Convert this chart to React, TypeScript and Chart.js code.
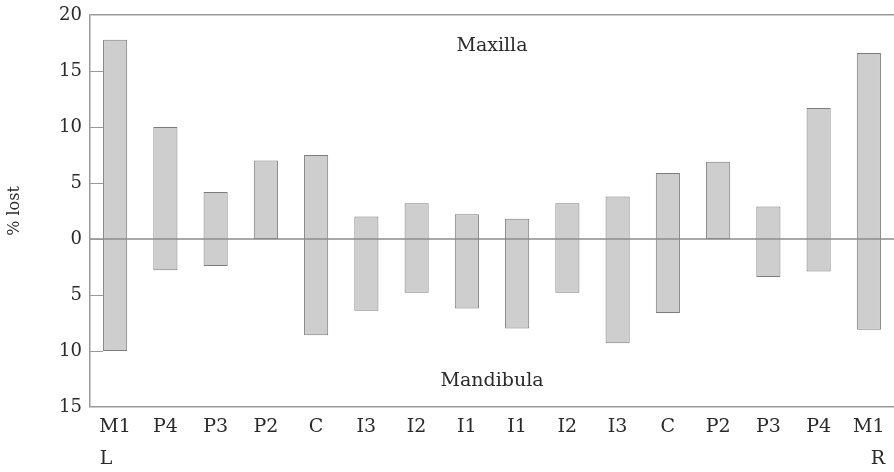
import React, { useEffect, useRef } from "react";
import { Chart, registerables } from "chart.js";

Chart.register(...registerables);

const categories: (string | string[])[] = [
  ["M1", "L   "], "P4", "P3", "P2", "C", "I3", "I2", "I1",
  "I1", "I2", "I3", "C", "P2", "P3", "P4", ["M1", "   R"],
];
const maxillaLost = [17.8, 10, 4.2, 7, 7.5, 2, 3.2, 2.2, 1.8, 3.2, 3.8, 5.9, 6.9, 2.9, 11.7, 16.6];
const mandibulaLost = [10, 2.8, 2.4, 0, 8.6, 6.4, 4.8, 6.2, 8, 4.8, 9.3, 6.6, 0, 3.4, 2.9, 8.1];
const yTicks = [-15, -10, -5, 0, 5, 10, 15, 20];
const regionLabels = [
  { text: "Maxilla", x: 7.5, y: 17.2 },
  { text: "Mandibula", x: 7.5, y: -12.7 },
];

const SERIF = "'DejaVu Serif', 'Liberation Serif', serif";
const TEXT = "#2a2a2a";
const AXIS = "#9a9a9a";

export default function App() {
  const ref = useRef<HTMLCanvasElement | null>(null);

  useEffect(() => {
    if (!ref.current) return;
    const decorations = {
      id: "decorations",
      afterDatasetsDraw(chart: any) {
        const { ctx, scales } = chart;
        const y = scales.y;
        const x = scales.x;
        ctx.save();
        // zero line over the bars
        ctx.strokeStyle = "#8c8c8c";
        ctx.lineWidth = 1.5;
        const pz = y.getPixelForValue(0);
        ctx.beginPath();
        ctx.moveTo(x.left, pz);
        ctx.lineTo(x.right, pz);
        ctx.stroke();
        // inner tick marks
        ctx.strokeStyle = AXIS;
        ctx.lineWidth = 1;
        yTicks.forEach((v) => {
          if (v === yTicks[0] || v === yTicks[yTicks.length - 1]) return;
          const py = Math.round(y.getPixelForValue(v)) + 0.5;
          ctx.beginPath();
          ctx.moveTo(x.left, py);
          ctx.lineTo(x.left + 13, py);
          ctx.stroke();
        });
        ctx.fillStyle = TEXT;
        ctx.font = `19px ${SERIF}`;
        ctx.textAlign = "center";
        ctx.textBaseline = "middle";
        regionLabels.forEach((l) => {
          ctx.fillText(l.text, x.getPixelForValue(l.x), y.getPixelForValue(l.y));
        });
        ctx.restore();
      },
    };

    const chart = new Chart(ref.current, {
      type: "bar",
      data: {
        labels: categories,
        datasets: [
          {
            label: "% lost",
            data: maxillaLost.map((v, i) => [-mandibulaLost[i], v]) as any,
            backgroundColor: "#cecece",
            borderColor: "#7c7c7c",
            borderWidth: 1,
            borderSkipped: false,
            categoryPercentage: 1,
            barPercentage: 0.48,
          },
        ],
      },
      options: {
        animation: false,
        responsive: true,
        maintainAspectRatio: false,
        layout: { padding: { left: 0, right: 0, top: 15, bottom: 0 } },
        plugins: { legend: { display: false }, tooltip: { enabled: false } },
        scales: {
          x: {
            type: "category",
            grid: { display: false, drawTicks: false },
            border: { display: true, color: AXIS, width: 1.5 },
            ticks: {
              color: TEXT,
              font: { family: SERIF, size: 19, lineHeight: 1.7 },
              padding: 4,
              maxRotation: 0,
              autoSkip: false,
            },
            afterFit: (s: any) => {
              s.height = 65;
              s.paddingLeft = 0;
              s.paddingRight = 0;
            },
          },
          y: {
            type: "linear",
            min: -15,
            max: 20,
            afterBuildTicks: (s: any) => {
              s.ticks = yTicks.map((v) => ({ value: v }));
            },
            ticks: {
              color: TEXT,
              font: { family: SERIF, size: 18 },
              padding: 8,
              callback: (v: any) => String(Math.abs(Number(v))),
            },
            grid: {
              drawTicks: false,
              lineWidth: (c: any) => (c.tick && c.tick.value === 20 ? 1.5 : 0),
              color: (c: any) => (c.tick && c.tick.value === 20 ? AXIS : "rgba(0,0,0,0)"),
            },
            border: { display: true, color: AXIS, width: 1.5 },
            title: {
              display: true,
              text: "% lost",
              color: TEXT,
              font: { family: SERIF, size: 16 },
              padding: { top: 5, bottom: 4 },
            },
            afterFit: (s: any) => {
              s.width = 90;
              s.paddingTop = 0;
              s.paddingBottom = 0;
            },
          },
        },
      },
      plugins: [decorations],
    });
    return () => chart.destroy();
  }, []);

  return (
    <div style={{ position: "fixed", left: 0, top: 0, width: 894, height: 472, background: "#ffffff" }}>
      <canvas ref={ref} />
    </div>
  );
}
